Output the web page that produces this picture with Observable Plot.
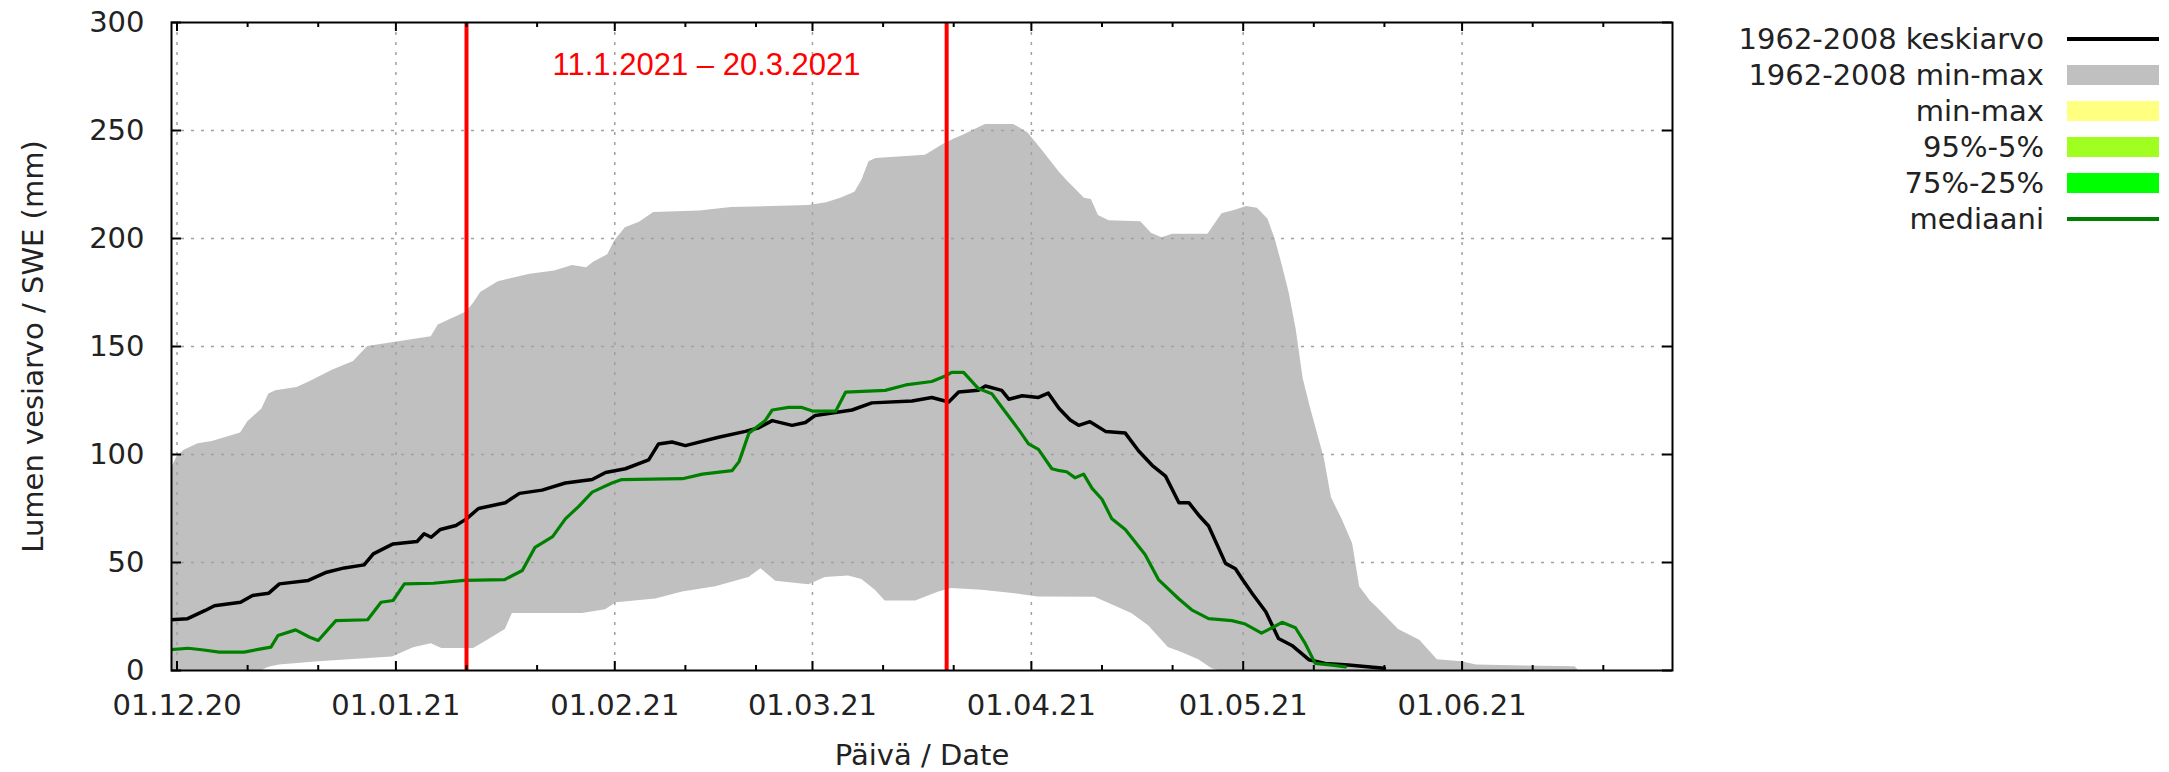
<!DOCTYPE html>
<html><head><meta charset="utf-8">
<script src="https://cdn.jsdelivr.net/npm/d3@7"></script>
<script src="https://cdn.jsdelivr.net/npm/@observablehq/plot@0.6"></script>
<style>
html,body{margin:0;padding:0;background:#fff;}
#wrap{position:relative;width:2169px;height:772px;overflow:hidden;font-family:"DejaVu Sans",sans-serif;background:#fff;}
#wrap svg{position:absolute;left:0;top:0;}
.lt{position:absolute;right:125px;height:36px;line-height:36px;font-size:29px;color:#222;white-space:nowrap;text-align:right;}
.sw{position:absolute;left:2067px;width:92px;}
</style></head><body><div id="wrap"></div>
<script>
// ---- data: [day offset from 1 Dec 2020, SWE mm] ----
const maxBand = [[-1,92],[0,99],[1,102],[3,105],[5,106],[7,108],[9,110],[10,115],[11,118],[12,121],[13,128],[14,129.5],[17,131],[19,134],[22,139],[25,143],[27,150],[30,151.5],[33,153],[36,154.5],[37,160],[39,163],[41,166],[42,170],[43,175],[45.5,180],[48,182],[50,183.5],[53.5,185],[56,187.5],[58,186.5],[59,189],[61,192.5],[62,199],[63.5,205],[65.5,207.5],[67.5,212],[74,212.7],[78.5,214.3],[89.5,215.3],[92,216.5],[94,218.6],[96,221.4],[97,227],[98,235.5],[99,237],[106,238.5],[107,240.5],[108.5,243.5],[110,246],[111.5,248],[113,250.5],[114.5,252.8],[118.5,252.8],[120.5,249],[122.5,241],[125,230.5],[126,227],[127.5,222],[128.5,218.6],[129.5,218],[130.5,210.7],[132,208.2],[136.5,207.7],[138,202.4],[139.5,200.4],[141,202],[146,202],[148,211.5],[149.5,212.7],[151.5,214.8],[153,214],[154.5,209],[155.5,200],[156.5,188],[157.5,175],[158.5,158],[159.5,135],[160.5,122],[161.5,110],[162.5,98],[163.5,80],[165,70],[166.5,58.7],[167.5,38.8],[169,32.2],[170,29],[173,19],[176,14],[178.5,5],[182,4],[184,2.5],[198,1.7],[198.5,0],[212,0]];
const minBand = [[-1,0],[12,0],[13,1.5],[14.5,2.5],[20,4],[30.5,6.2],[33.5,10.5],[36,12.4],[37.5,10.2],[42,10.2],[44,14],[46.5,19],[47.5,26.4],[57.4,26.4],[60.7,28.1],[62.2,31.4],[67.8,33.1],[71.6,36.4],[76.3,38.8],[81,43],[82.7,47.1],[84.8,41.3],[89.5,39.7],[91.8,43],[95.1,43.8],[97,42.1],[98.9,37.2],[100.3,32.2],[104.6,32.2],[107.9,36.4],[109.7,38],[114,37.2],[118.7,35.5],[122,34],[130,33.9],[132.9,29.7],[135.2,26.4],[137.6,20.7],[140.4,10.7],[142.3,8.3],[144.7,5],[146.6,0.8],[147.5,0],[212,0]];
const meanSeries = [[-1,23.5],[1.5,24],[4,27.8],[5.3,30],[9,31.6],[10.7,34.7],[13,35.8],[14.5,40.1],[18.6,41.7],[21.2,45.5],[23.7,47.5],[26.5,48.9],[27.8,54],[30.6,58.6],[34,59.7],[35,63.3],[36,61.7],[37.3,65.3],[39.5,67.1],[41,70.2],[42.7,75],[46.5,77.7],[48.5,82],[51.7,83.5],[55,86.8],[58.8,88.4],[60.7,91.7],[63.5,93.4],[66.8,97.5],[68.2,104.9],[70.1,105.8],[72,104.1],[76.7,108],[80.5,110.7],[82.4,112.4],[84.3,115.7],[87.1,113.5],[89,114.8],[90.4,118.1],[95.6,120.6],[98.4,123.9],[104.1,124.8],[106.9,126.4],[109.3,124.3],[110.7,128.9],[113.5,129.7],[114.5,131.7],[116.8,129.7],[117.8,125.6],[119.7,127.2],[122,126.4],[123.4,128.4],[124.9,121.4],[126.5,116],[127.7,113.5],[129.3,115.2],[131.5,110.7],[134.3,109.9],[136.2,101.6],[138.1,95],[140,90],[141.9,77.7],[143.3,77.7],[144.7,71.9],[146.1,66.9],[148.5,49.6],[149.9,47.1],[150.9,42.1],[152.3,35.5],[154.2,27.2],[156,14.8],[157.9,11.6],[160.3,5],[162.6,3.3],[165.9,2.5],[171,1]];
const medianSeries = [[-1,9.6],[1.6,10.3],[3.5,9.6],[6,8.5],[9.5,8.5],[11.7,9.9],[13.3,10.8],[14.3,16.2],[16.8,18.8],[18.8,15.4],[20,13.9],[22.5,23.1],[27,23.5],[28.9,31.6],[30.6,32.4],[32.2,40.1],[36.3,40.4],[40.7,41.7],[46.4,42.1],[48.9,46.3],[50.7,57],[53.2,62],[55,70.2],[56.9,76],[58.8,82.6],[61.6,86.8],[63,88.4],[71.6,88.8],[74.4,90.9],[78.6,92.5],[79.6,96.7],[81,109.9],[83.3,115.7],[84.3,120.6],[86.6,121.8],[88.5,121.8],[90,120.1],[93.3,120.1],[94.7,128.9],[100.3,129.7],[103.2,132.2],[106.9,133.8],[108.8,136.3],[109.7,138],[111.4,138],[113.5,130.5],[115.4,128.1],[117.3,119.8],[119.2,111.5],[120.6,104.9],[122,102.4],[123.9,93.4],[125,92.5],[126,92],[127.2,89.2],[128.4,90.9],[129.6,84.3],[131,79.3],[132.4,70.2],[134.3,65.3],[137.1,53.7],[139,42.1],[141.9,33.1],[143.7,28.1],[146.1,24],[149.4,23.1],[151.3,21.5],[153.6,17.3],[155.1,19.8],[156.5,22.3],[158.4,19.8],[159.8,12.4],[161.2,3.3],[163.6,2.5],[165.5,1.7]];

const monthTicks = ["2020-12-01","2021-01-01","2021-02-01","2021-03-01","2021-04-01","2021-05-01","2021-06-01"];
const monthLabels = ["01.12.20","01.01.21","01.02.21","01.03.21","01.04.21","01.05.21","01.06.21"];
const yTicks = [0,50,100,150,200,250,300];
const periodDates = ["2021-01-11","2021-03-20"];
const periodLabel = "11.1.2021 \u2013 20.3.2021";
const yLabel = "Lumen vesiarvo / SWE (mm)";
const xLabel = "P\u00e4iv\u00e4 / Date";
const legendLabels = ["1962-2008 keskiarvo","1962-2008 min-max","min-max","95%-5%","75%-25%","mediaani"];
const legendColors = ["#000000","#c0c0c0","#ffff80","#a0ff20","#00ff00","#008000"];
const legendKinds = ["line","area","area","area","area","line"];

// ---- helpers ----
const t0 = Date.UTC(2020, 11, 1);
const day = d => new Date(t0 + d * 864e5);
const pts = arr => arr.map(([d, v]) => ({date: day(d), value: v}));
const months = monthTicks.map(s => new Date(s + "T00:00:00Z"));
const periods = periodDates.map(s => new Date(s + "T00:00:00Z"));
const minorTicks = d3.utcDay.range(day(-1), day(213)).filter(d => d.getUTCDate() === 11 || d.getUTCDate() === 21);
const midPeriod = new Date((+periods[0] + +periods[1]) / 2);

const WIDTH = 2169, HEIGHT = 772, ML = 171, MR = 497, MT = 22, MB = 102;
const W = WIDTH - ML - MR, H = HEIGHT - MT - MB;
const gridStyle = {stroke: "#a0a0a0", strokeWidth: 1.5, strokeDasharray: "3,7"};

const chart = Plot.plot({
  width: WIDTH, height: HEIGHT,
  marginLeft: ML, marginRight: MR, marginTop: MT, marginBottom: MB,
  style: {fontFamily: "DejaVu Sans", fontSize: "29px", color: "#222", background: "white", overflow: "visible"},
  x: {type: "utc", domain: [day(-0.78), day(211.8)]},
  y: {domain: [0, 300]},
  marks: [
    Plot.areaY(pts(maxBand), {x: "date", y: "value", fill: "#c0c0c0", clip: true}),
    Plot.areaY(pts(minBand), {x: "date", y: "value", fill: "white", clip: true}),
    Plot.ruleX(months, {x: d => d, ...gridStyle}),
    Plot.ruleY(yTicks.filter(v => v > 0 && v < 300), {y: d => d, ...gridStyle}),
    Plot.line(pts(meanSeries), {x: "date", y: "value", stroke: "black", strokeWidth: 3.5, clip: true}),
    Plot.line(pts(medianSeries), {x: "date", y: "value", stroke: "#008000", strokeWidth: 3.2, clip: true}),
    Plot.ruleX(periods, {x: d => d, stroke: "#ff0000", strokeWidth: 4}),
    Plot.text([periodLabel], {x: () => midPeriod, frameAnchor: "top", dy: 43, text: d => d, fill: "#ff0000",
      fontFamily: "Liberation Sans, Arial, sans-serif", fontSize: 31, textAnchor: "middle", lineAnchor: "middle"}),
    // inward ticks
    Plot.ruleX(months, {x: d => d, stroke: "black", strokeWidth: 2, insetTop: H - 9}),
    Plot.ruleX(months, {x: d => d, stroke: "black", strokeWidth: 2, insetBottom: H - 9}),
    Plot.ruleX(minorTicks, {x: d => d, stroke: "black", strokeWidth: 2, insetTop: H - 5}),
    Plot.ruleX(minorTicks, {x: d => d, stroke: "black", strokeWidth: 2, insetBottom: H - 5}),
    Plot.ruleY(yTicks, {y: d => d, stroke: "black", strokeWidth: 2, insetRight: W - 10}),
    Plot.ruleY(yTicks, {y: d => d, stroke: "black", strokeWidth: 2, insetLeft: W - 10}),
    Plot.frame({stroke: "black", strokeWidth: 2}),
    Plot.axisX(months, {tickSize: 0, tickPadding: 24, label: null, fontSize: 29,
      tickFormat: d => monthLabels[months.findIndex(m => +m === +d)]}),
    Plot.axisY(yTicks, {tickSize: 0, tickPadding: 27, label: null, fontSize: 29}),
    Plot.text([yLabel], {frameAnchor: "left", dx: -138, rotate: -90, text: d => d, textAnchor: "middle", lineAnchor: "middle", fontSize: 29, fill: "#222"}),
    Plot.text([xLabel], {frameAnchor: "bottom", dy: 85, text: d => d, textAnchor: "middle", lineAnchor: "middle", fontSize: 29, fill: "#222"})
  ]
});
const wrap = document.getElementById("wrap");
wrap.appendChild(chart);

// legend
legendLabels.forEach((lab, i) => {
  const cy = 39 + 36 * i;
  const t = document.createElement("div");
  t.className = "lt"; t.style.top = (cy - 18) + "px"; t.textContent = lab;
  wrap.appendChild(t);
  const s = document.createElement("div");
  s.className = "sw";
  s.style.background = legendColors[i];
  if (legendKinds[i] === "line") { s.style.top = (cy - 2) + "px"; s.style.height = "4px"; }
  else { s.style.top = (cy - 10) + "px"; s.style.height = "20px"; }
  wrap.appendChild(s);
});
</script></body></html>
